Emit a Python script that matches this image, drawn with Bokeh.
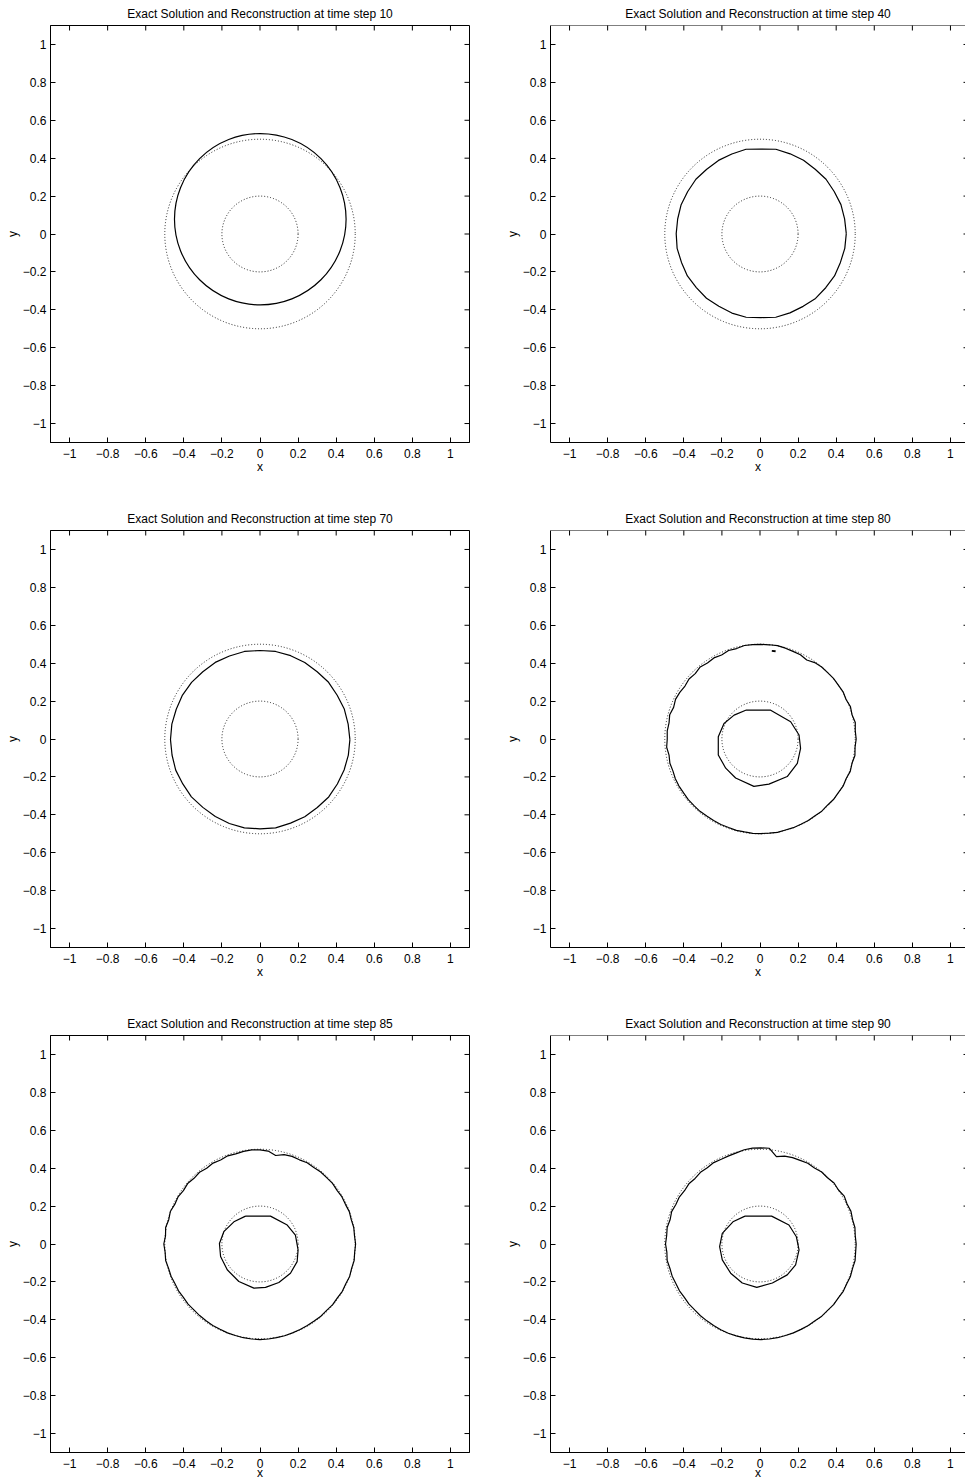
import numpy as np
from bokeh.plotting import figure
from bokeh.models import Range1d, FixedTicker, Span
from bokeh.layouts import column, row
from bokeh.core.properties import value
from bokeh.embed import file_html
from bokeh.resources import INLINE

# ---------------- data ----------------
time_steps = [10, 40, 70, 80, 85, 90]
tick_values = [-1.0, -0.8, -0.6, -0.4, -0.2, 0.0, 0.2, 0.4, 0.6, 0.8, 1.0]
tick_labels = ["\u22121", "\u22120.8", "\u22120.6", "\u22120.4", "\u22120.2", "0",
               "0.2", "0.4", "0.6", "0.8", "1"]

# exact solution: annulus between two circles (dotted)
exact_center = [0.0, 0.0]
exact_radii = [0.5, 0.2]

# reconstruction, step 10: a shifted circle
recon10_center = [0.0015, 0.078]
recon10_radii = [0.4505, 0.452]   # x, y

# reconstruction, step 40: polar radii every 10 degrees
recon40_center = [0.005, 0.002]
recon40_radii = [0.448, 0.446, 0.447, 0.444, 0.446, 0.443, 0.447, 0.448, 0.452,
                 0.446, 0.452, 0.447, 0.446, 0.443, 0.446, 0.444, 0.446, 0.444,
                 0.445, 0.447, 0.444, 0.446, 0.443, 0.445, 0.442, 0.446, 0.448,
                 0.443, 0.448, 0.445, 0.443, 0.446, 0.444, 0.446, 0.444, 0.447]

# reconstruction, step 70: polar radii every 10 degrees
recon70_center = [0.0, -0.003]
recon70_radii = [0.472, 0.470, 0.471, 0.468, 0.470, 0.467, 0.470, 0.471, 0.472,
                 0.470, 0.472, 0.469, 0.470, 0.467, 0.469, 0.470, 0.468, 0.470,
                 0.470, 0.469, 0.471, 0.468, 0.470, 0.467, 0.469, 0.471, 0.473,
                 0.471, 0.473, 0.469, 0.470, 0.468, 0.471, 0.469, 0.470, 0.471]

# reconstruction, step 80: outer boundary (polar, every 5 degrees)
recon80_outer_center = [0.005, 0.0]
recon80_outer_radii = [
    0.500, 0.497, 0.503, 0.495, 0.500, 0.493, 0.498, 0.496, 0.497, 0.495,
    0.496, 0.492, 0.481, 0.490, 0.492, 0.496, 0.500, 0.499, 0.499, 0.500,
    0.501, 0.494, 0.497, 0.489, 0.494, 0.490, 0.496, 0.488, 0.493, 0.487,
    0.492, 0.495, 0.488, 0.496, 0.490, 0.494, 0.492, 0.497, 0.490, 0.495,
    0.492, 0.496, 0.497, 0.496, 0.498, 0.497, 0.498, 0.496, 0.497, 0.498,
    0.497, 0.499, 0.498, 0.500, 0.499, 0.498, 0.500, 0.497, 0.498, 0.496,
    0.497, 0.495, 0.497, 0.494, 0.497, 0.495, 0.498, 0.494, 0.499, 0.495,
    0.501, 0.496]
recon80_inner_x = [-0.075, 0.056, 0.161, 0.205, 0.213, 0.196, 0.143, 0.047,
                   -0.032, -0.128, -0.180, -0.219, -0.219, -0.189, -0.136]
recon80_inner_y = [0.152, 0.152, 0.091, 0.021, -0.049, -0.128, -0.198, -0.238,
                   -0.250, -0.206, -0.154, -0.084, 0.012, 0.082, 0.126]
recon80_speck_x = [0.062, 0.082]
recon80_speck_y = [0.465, 0.463]

# reconstruction, step 85
recon85_outer_center = [0.0, 0.0]
recon85_outer_radii = [
    0.502, 0.498, 0.500, 0.496, 0.499, 0.495, 0.497, 0.494, 0.497, 0.495,
    0.496, 0.493, 0.495, 0.490, 0.492, 0.488, 0.474, 0.492, 0.497, 0.498,
    0.496, 0.492, 0.495, 0.489, 0.493, 0.488, 0.494, 0.490, 0.496, 0.491,
    0.497, 0.494, 0.501, 0.496, 0.503, 0.498, 0.505, 0.500, 0.503, 0.497,
    0.497, 0.493, 0.494, 0.491, 0.493, 0.491, 0.493, 0.494, 0.496, 0.496,
    0.499, 0.500, 0.502, 0.503, 0.504, 0.503, 0.502, 0.501, 0.499, 0.498,
    0.497, 0.496, 0.497, 0.495, 0.498, 0.496, 0.499, 0.497, 0.501, 0.498,
    0.502, 0.499]
recon85_inner_x = [-0.076, 0.055, 0.143, 0.186, 0.200, 0.195, 0.160, 0.099,
                   0.029, -0.032, -0.111, -0.172, -0.207, -0.213, -0.190, -0.137]
recon85_inner_y = [0.147, 0.147, 0.100, 0.047, -0.031, -0.093, -0.154, -0.203,
                   -0.229, -0.233, -0.198, -0.136, -0.066, 0.003, 0.065, 0.117]

# reconstruction, step 90
recon90_outer_center = [0.005, 0.0]
recon90_outer_radii = [
    0.500, 0.497, 0.501, 0.498, 0.503, 0.499, 0.505, 0.497, 0.501, 0.494,
    0.496, 0.490, 0.492, 0.487, 0.485, 0.480, 0.468, 0.507, 0.507, 0.508,
    0.505, 0.498, 0.495, 0.493, 0.496, 0.491, 0.494, 0.489, 0.494, 0.490,
    0.495, 0.493, 0.499, 0.494, 0.500, 0.497, 0.501, 0.496, 0.500, 0.495,
    0.496, 0.493, 0.494, 0.491, 0.493, 0.492, 0.494, 0.495, 0.497, 0.499,
    0.501, 0.502, 0.503, 0.504, 0.504, 0.503, 0.502, 0.500, 0.499, 0.497,
    0.497, 0.495, 0.497, 0.495, 0.498, 0.496, 0.499, 0.497, 0.500, 0.498,
    0.502, 0.499]
recon90_inner_x = [-0.079, 0.061, 0.152, 0.191, 0.205, 0.187, 0.143, 0.065,
                   -0.017, -0.093, -0.154, -0.198, -0.212, -0.198, -0.142]
recon90_inner_y = [0.147, 0.147, 0.100, 0.038, -0.031, -0.110, -0.163, -0.206,
                   -0.229, -0.206, -0.154, -0.084, -0.014, 0.056, 0.117]

# ---------------- helpers ----------------
FONT = "Liberation Sans"
LIM = 1.1
FRAME_W = 419
FRAME_H = 418
BORDER_L = 50
BORDER_T = 24


def polar_xy(center, radii):
    r = np.asarray(radii, dtype=float)
    ang = np.deg2rad(np.arange(len(r)) * 360.0 / len(r))
    xs = center[0] + r * np.cos(ang)
    ys = center[1] + r * np.sin(ang)
    return list(xs) + [xs[0]], list(ys) + [ys[0]]


def closed(xs, ys):
    return list(xs) + [xs[0]], list(ys) + [ys[0]]


def make_panel(step, right_col, last_row):
    if right_col:
        width = 465
        mbr = 0
    else:
        width = 500
        mbr = width - BORDER_L - FRAME_W
    height = 473 if last_row else 505
    mbb = height - BORDER_T - FRAME_H
    frame_w = width - BORDER_L - mbr
    x_end = -LIM + 2 * LIM * frame_w / FRAME_W

    p = figure(width=width, height=height,
               x_range=Range1d(-LIM, x_end), y_range=Range1d(-LIM, LIM),
               output_backend="svg", toolbar_location=None,
               min_border_left=BORDER_L, min_border_right=mbr,
               min_border_top=BORDER_T, min_border_bottom=mbb,
               x_axis_label="x", y_axis_label="y",
               title="Exact Solution and Reconstruction at time step %d" % step)
    p.grid.visible = False
    p.background_fill_color = "white"
    p.border_fill_color = "white"
    if right_col:
        p.outline_line_color = None
        p.add_layout(Span(location=LIM, dimension="width",
                          line_color="black", line_width=1))
    else:
        p.outline_line_color = "black"
        p.outline_line_alpha = 1.0
        p.outline_line_width = 1

    p.title.text_font = FONT
    p.title.text_font_size = "12px"
    p.title.text_font_style = "normal"
    p.title.text_color = "black"
    p.title.align = "center"
    p.title.standoff = 9

    overrides = dict(zip(tick_values, tick_labels))
    for ax in p.axis:
        ax.ticker = FixedTicker(ticks=tick_values)
        ax.major_label_overrides = overrides
        ax.major_tick_in = 5
        ax.major_tick_out = 0
        ax.minor_tick_in = 0
        ax.minor_tick_out = 0
        ax.major_tick_line_color = "black"
        ax.major_tick_line_width = 1
        ax.axis_line_color = "black"
        ax.axis_line_width = 1
        ax.major_label_text_font = FONT
        ax.major_label_text_font_size = "12px"
        ax.major_label_text_color = "black"
        ax.axis_label_text_font = FONT
        ax.axis_label_text_font_size = "12px"
        ax.axis_label_text_font_style = "normal"
        ax.axis_label_text_color = "black"

    p.xaxis[0].major_label_standoff = 6
    p.xaxis[0].axis_label_standoff = -5 if last_row else -1
    p.yaxis[0].major_label_standoff = 4
    p.yaxis[0].axis_label_standoff = 0

    # inward tick marks on the top and right edges (clipped to the frame)
    n = len(tick_values)
    p.scatter(x=tick_values, y=[LIM] * n, marker="dash", size=10,
              angle=np.pi / 2, line_color="black", line_width=1)
    p.scatter(x=[x_end] * n, y=tick_values, marker="dash",
              size=4 if right_col else 10, line_color="black", line_width=1)

    # exact solution (dotted circles)
    p.ellipse(x=[exact_center[0]] * 2, y=[exact_center[1]] * 2,
              width=[2 * r for r in exact_radii], height=[2 * r for r in exact_radii],
              fill_color=None, line_color="#222222", line_width=1,
              line_dash=value("1 2"))
    return p


solid = dict(line_color="black", line_width=1.2)

p10 = make_panel(time_steps[0], False, False)
p10.ellipse(x=[recon10_center[0]], y=[recon10_center[1]],
            width=[2 * recon10_radii[0]], height=[2 * recon10_radii[1]],
            fill_color=None, **solid)

p40 = make_panel(time_steps[1], True, False)
xs, ys = polar_xy(recon40_center, recon40_radii)
p40.line(xs, ys, **solid)

p70 = make_panel(time_steps[2], False, False)
xs, ys = polar_xy(recon70_center, recon70_radii)
p70.line(xs, ys, **solid)

p80 = make_panel(time_steps[3], True, False)
xs, ys = polar_xy(recon80_outer_center, recon80_outer_radii)
p80.line(xs, ys, **solid)
xs, ys = closed(recon80_inner_x, recon80_inner_y)
p80.line(xs, ys, **solid)
p80.line(recon80_speck_x, recon80_speck_y, line_color="black", line_width=1.8)

p85 = make_panel(time_steps[4], False, True)
xs, ys = polar_xy(recon85_outer_center, recon85_outer_radii)
p85.line(xs, ys, **solid)
xs, ys = closed(recon85_inner_x, recon85_inner_y)
p85.line(xs, ys, **solid)

p90 = make_panel(time_steps[5], True, True)
xs, ys = polar_xy(recon90_outer_center, recon90_outer_radii)
p90.line(xs, ys, **solid)
xs, ys = closed(recon90_inner_x, recon90_inner_y)
p90.line(xs, ys, **solid)

layout = column(row(p10, p40), row(p70, p80), row(p85, p90))

open("out.html", "w").write(file_html(layout, INLINE))
